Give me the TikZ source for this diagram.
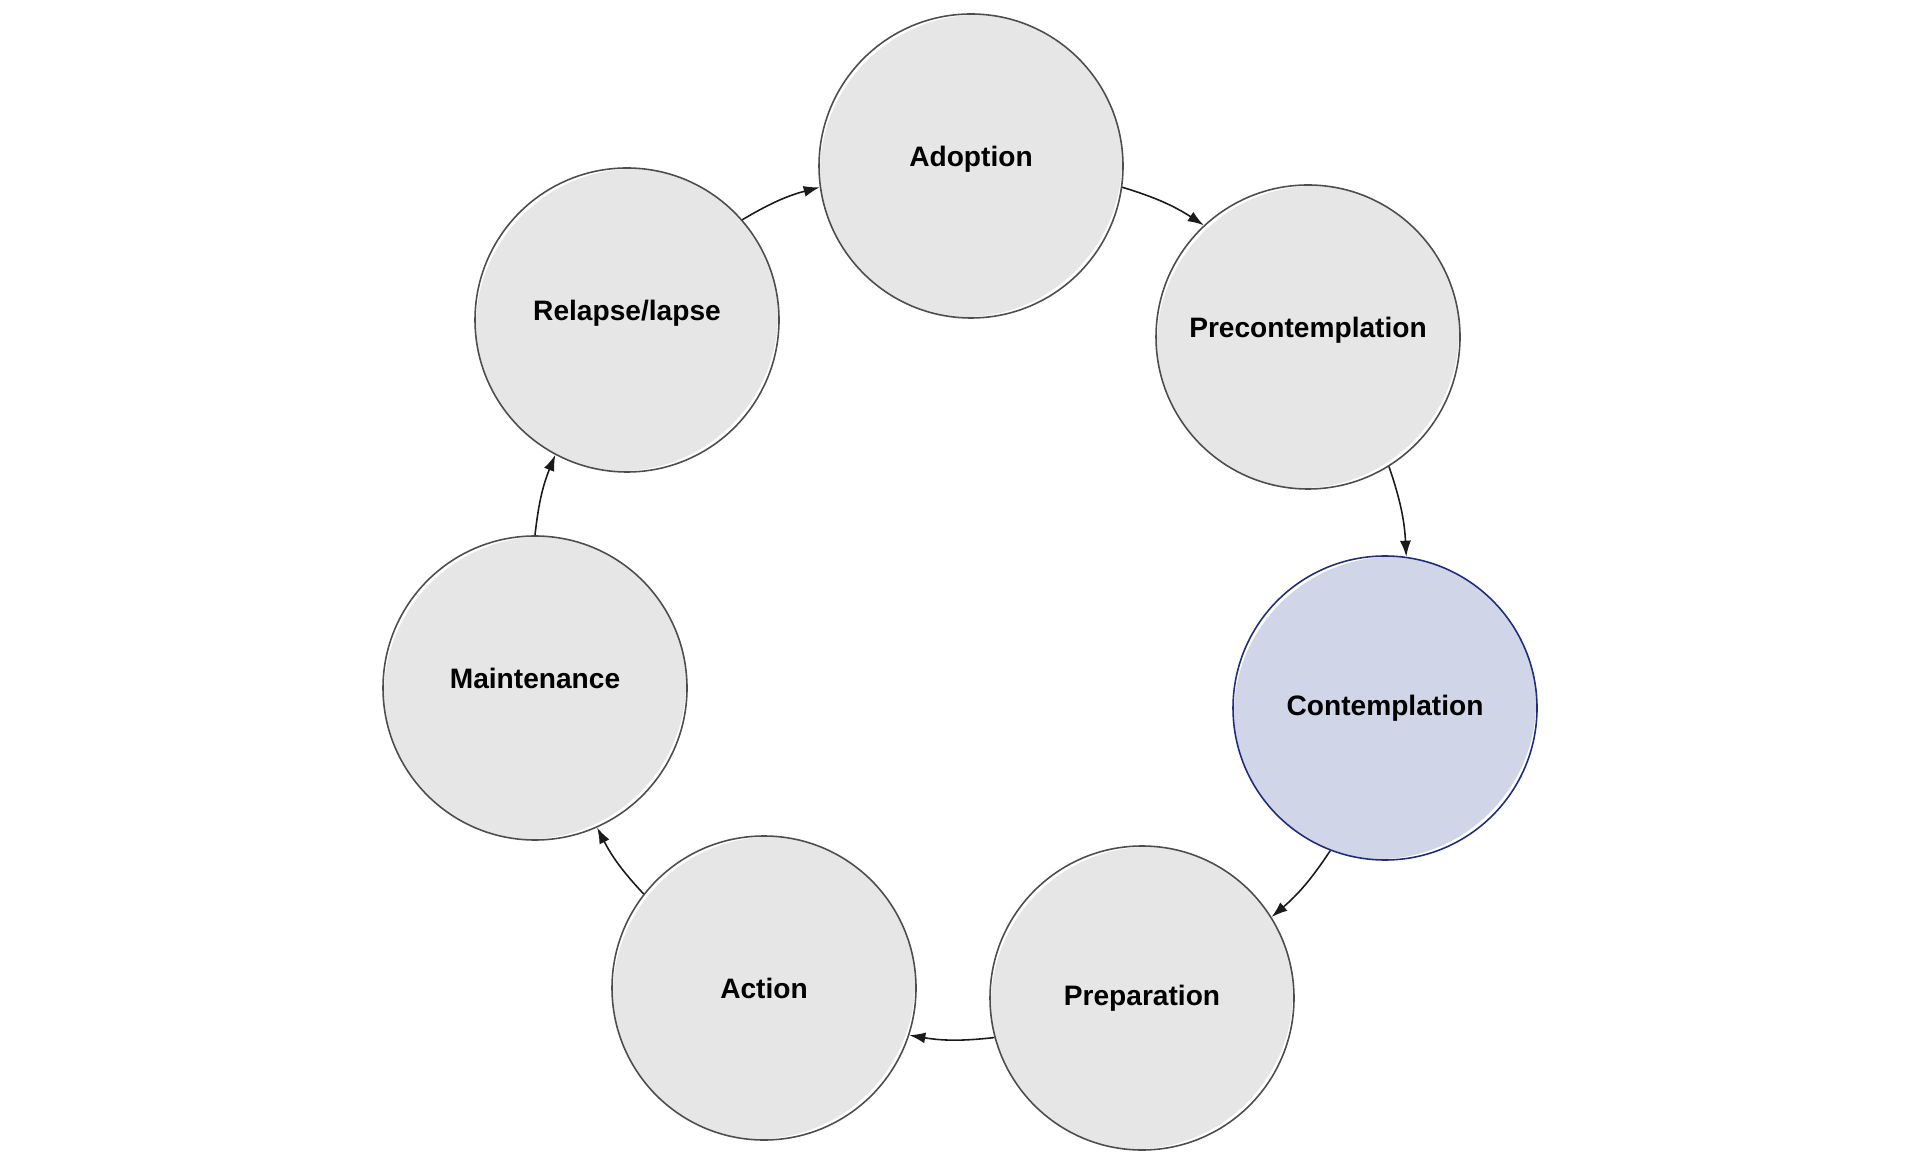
\documentclass[tikz,border=0pt]{standalone}
\usepackage{fontspec}
\setmainfont{Liberation Sans}
\usepackage{xcolor}
\usepackage{tikz}
\usetikzlibrary{arrows.meta}
\definecolor{stagefill}{HTML}{E6E6E6}
\definecolor{stageline}{HTML}{4D4D4D}
\definecolor{focusfill}{HTML}{D0D5E8}
\definecolor{focusline}{HTML}{1F2D7A}
\definecolor{darkgray}{HTML}{1A1A1A}

\begin{document}
\begin{tikzpicture}[
  font=\fontsize{8}{9.6}\selectfont\bfseries,
  blob/.style={path picture={\fill[#1] (path picture bounding box.center) circle [x radius=1.54cm,y radius=1.48cm,rotate=45];}},
  stage/.style={circle,draw=stageline,fill=white,blob=stagefill,line width=.45pt,minimum size=3.04cm,inner sep=0pt,align=center,text=black},
  focus/.style={stage,draw=focusline,blob=focusfill},
  lifted/.style={text height=.21cm,text depth=.2cm},
  arrow/.style={-{Latex[length=1.6mm,width=1.1mm]},draw=darkgray,line width=.45pt,bend left=8}
]
\useasboundingbox (0,0) rectangle (19.2,-11.64);
\node[stage,lifted] (adopt) at (9.71,-1.66) {Adoption};
\node[stage,lifted] (precon) at (13.08,-3.37) {Precontemplation};
\node[focus] (contem) at (13.85,-7.08) {Contemplation};
\node[stage] (prep) at (11.42,-9.98) {Preparation};
\node[stage] (action) at (7.64,-9.88) {Action};
\node[stage,lifted] (maint) at (5.35,-6.88) {Maintenance};
\node[stage,lifted] (relapse) at (6.27,-3.20) {Relapse/lapse};
\draw[arrow] (adopt.-8) to (precon.133);
\draw[arrow] (precon.-58) to (contem.82);
\draw[arrow] (contem.-111) to (prep.32);
\draw[arrow] (prep.195) to (action.-18);
\draw[arrow] (action.142) to (maint.-66);
\draw[arrow] (maint.90) to (relapse.-118);
\draw[arrow] (relapse.41) to (adopt.188);
\end{tikzpicture}
\end{document}
